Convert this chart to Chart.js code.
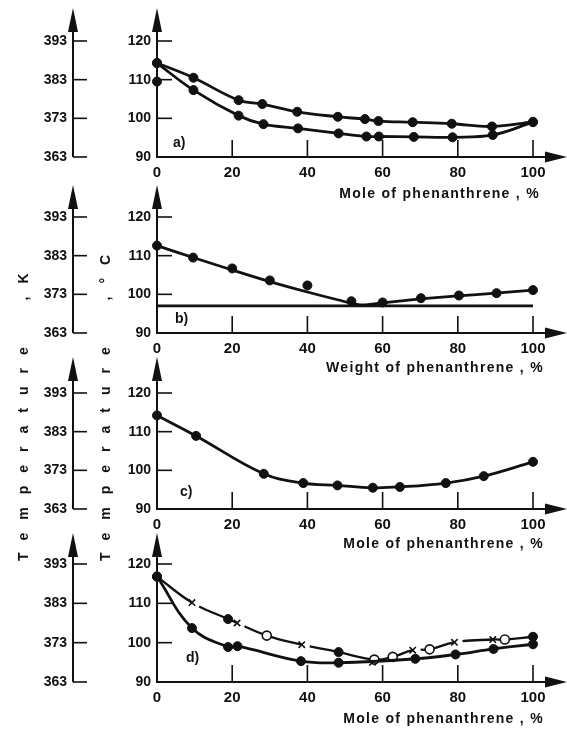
<!DOCTYPE html>
<html><head><meta charset="utf-8">
<script src="https://cdn.jsdelivr.net/npm/chart.js@4.4.1/dist/chart.umd.min.js"></script>
<style>
html,body{margin:0;padding:0;background:#fff;}
body{width:567px;height:729px;overflow:hidden;position:relative;font-family:"Liberation Sans",Arial,sans-serif;color:#111;}
canvas{position:absolute;left:0;}
.t{position:absolute;font-weight:bold;white-space:pre;line-height:16px;}
.xt{font-size:14px;letter-spacing:1.3px;}
.vt{font-size:14px;letter-spacing:13px;transform-origin:0 0;transform:rotate(-90deg);line-height:14px;}
.pl{font-size:14px;}
</style></head><body>
<canvas id="pa"></canvas><canvas id="pb"></canvas><canvas id="pc"></canvas><canvas id="pd"></canvas>

<div class="t vt" style="left:16px;top:561px;">Temperature  ,K</div>
<div class="t vt" style="left:98px;top:561px;">Temperature  ,°C</div>

<div class="t xt" style="right:27px;top:185px;">Mole of phenanthrene , %</div>
<div class="t xt" style="right:23px;top:359px;">Weight of phenanthrene , %</div>
<div class="t xt" style="right:23px;top:535px;">Mole of phenanthrene , %</div>
<div class="t xt" style="right:23px;top:710px;">Mole of phenanthrene , %</div>

<div class="t pl" style="left:173px;top:134px;">a)</div>
<div class="t pl" style="left:175px;top:310px;">b)</div>
<div class="t pl" style="left:180px;top:483px;">c)</div>
<div class="t pl" style="left:186px;top:649px;">d)</div>

<script>
// ---- tick labels ----
const xTicks = [0, 20, 40, 60, 80, 100];
const cTicks = [90, 100, 110, 120];
const kTicks = [363, 373, 383, 393];

// ---- panel a ----
const aUpperX = [0, 9.7, 21.7, 28, 37.3, 48.1, 55.3, 58.9, 68, 78.4, 89.1, 100];
const aUpperT = [114.3, 110.5, 104.7, 103.7, 101.7, 100.4, 99.8, 99.3, 99.0, 98.6, 97.9, 99.1];
const aLowerX = [0, 9.7, 21.7, 28.3, 37.5, 48.3, 55.7, 59, 68.3, 78.6, 89.3, 100];
const aLowerT = [114.3, 107.3, 100.7, 98.5, 97.4, 96.1, 95.3, 95.3, 95.2, 95.1, 95.7, 99.0];
const aExtraX = [0];
const aExtraT = [109.5];

// ---- panel b ----
const bPointX = [0, 9.6, 20, 30, 40, 51.7, 60, 70.2, 80.3, 90.3, 100];
const bPointT = [112.6, 109.5, 106.7, 103.6, 102.3, 98.2, 97.9, 99.0, 99.7, 100.3, 101.1];
const bFitX = [0, 10, 20, 30, 40, 48, 54, 60, 70, 80, 90, 100];
const bFitT = [112.6, 109.4, 106.3, 103.3, 100.6, 98.6, 97.3, 97.8, 98.8, 99.6, 100.3, 101.1];
const bEutX = [0, 100];
const bEutT = [97.0, 97.0];

// ---- panel c ----
const cX = [0, 10.4, 28.4, 38.9, 48, 57.4, 64.6, 76.8, 86.9, 100];
const cT = [114.2, 108.9, 99.1, 96.7, 96.1, 95.5, 95.7, 96.7, 98.5, 102.2];

// ---- panel d ----
const dLowerX = [0, 9.3, 18.9, 21.4, 38.3, 48.3, 68.7, 79.4, 89.5, 100];
const dLowerT = [116.8, 103.7, 98.9, 99.1, 95.3, 94.9, 95.9, 97.0, 98.4, 99.6];
const dUpperX = [0, 9.3, 18.9, 21.3, 29.2, 38.5, 48.3, 57.8, 62.7, 68.0, 72.5, 79.1, 89.3, 92.5, 100];
const dUpperT = [116.8, 110.2, 106.0, 105.0, 101.8, 99.5, 97.6, 95.7, 96.4, 98.1, 98.3, 100.1, 100.8, 100.8, 101.5];
const dUpperMark = ['f','x','f','x','o','x','f','o','o','x','o','x','x','o','f'];
const dCrossX = [57.3];
const dCrossT = [95.0];

// ---------------------------------------------------------
const INK = '#111';
const pts = (xs, ys) => xs.map((x, i) => ({x: x, y: ys[i]}));

function curve(xs, ys, extra) {
  return Object.assign({
    data: pts(xs, ys), showLine: true, borderColor: INK, borderWidth: 2.8,
    tension: 0.4, pointRadius: 4.5, pointBackgroundColor: INK,
    pointBorderColor: INK, pointBorderWidth: 1, clip: false
  }, extra || {});
}
function dots(xs, ys, extra) {
  return Object.assign({
    data: pts(xs, ys), showLine: false, pointRadius: 4.5, pointBackgroundColor: INK,
    pointBorderColor: INK, pointBorderWidth: 1, clip: false
  }, extra || {});
}

function line(ctx, x1, y1, x2, y2) { ctx.beginPath(); ctx.moveTo(x1, y1); ctx.lineTo(x2, y2); ctx.stroke(); }
function arrowUp(ctx, x, tip) {
  ctx.beginPath(); ctx.moveTo(x, tip); ctx.lineTo(x - 5, tip + 24); ctx.lineTo(x + 5, tip + 24); ctx.closePath(); ctx.fill();
}
function arrowRight(ctx, tip, y) {
  ctx.beginPath(); ctx.moveTo(tip, y); ctx.lineTo(tip - 22, y - 5.5); ctx.lineTo(tip - 22, y + 5.5); ctx.closePath(); ctx.fill();
}

const axesPlugin = {
  id: 'axesArt',
  beforeDatasetsDraw(chart) {
    const ctx = chart.ctx, ca = chart.chartArea, s = chart.scales;
    const x0 = ca.left, yb = ca.bottom, kx = s.k.right;
    const tip = ca.top - chart.options.arrowGap;
    ctx.save();
    ctx.strokeStyle = INK; ctx.fillStyle = INK; ctx.lineCap = 'butt';
    ctx.lineWidth = 2;
    line(ctx, x0, yb + 1, x0, tip + 12); arrowUp(ctx, x0, tip);
    line(ctx, kx, yb, kx, tip + 12); arrowUp(ctx, kx, tip);
    line(ctx, x0 - 1, yb, chart.width - 18, yb); arrowRight(ctx, chart.width, yb);
    ctx.lineWidth = 1.6;
    kTicks.forEach(v => { const y = s.k.getPixelForValue(v); line(ctx, kx, y, kx + 14, y); });
    cTicks.forEach(v => { if (v === cTicks[0]) return; const y = s.y.getPixelForValue(v); line(ctx, x0, y, x0 + 15, y); });
    xTicks.forEach(v => { if (v === xTicks[0]) return; const x = s.x.getPixelForValue(v); line(ctx, x, yb, x, yb - 17); });
    ctx.restore();
  }
};

const tickFont = {family: '"Liberation Sans", Arial, sans-serif', size: 14, weight: 'bold'};

function makePanel(id, y120, y90, arrowGap, datasets) {
  const padTop = 42, bottomH = 30;
  const cv = document.getElementById(id);
  const H = padTop + (y90 - y120) + bottomH;
  cv.width = 567; cv.height = H; cv.style.top = (y120 - padTop) + 'px';
  new Chart(cv, {
    type: 'scatter',
    data: {datasets: datasets},
    options: {
      responsive: false, animation: false, events: [], arrowGap: arrowGap,
      layout: {padding: {top: padTop, right: 34, left: 0, bottom: 0}},
      plugins: {legend: {display: false}, tooltip: {enabled: false}},
      scales: {
        x: {
          type: 'linear', min: 0, max: 100,
          grid: {display: false, drawTicks: false}, border: {display: false},
          afterBuildTicks: sc => { sc.ticks = xTicks.map(v => ({value: v})); },
          afterFit: sc => { sc.height = bottomH; },
          ticks: {padding: 7, color: INK, font: Object.assign({}, tickFont, {size: 15}), maxRotation: 0, autoSkip: false}
        },
        y: {
          type: 'linear', position: 'left', min: 90, max: 120, weight: 0,
          grid: {display: false, drawTicks: false}, border: {display: false},
          afterBuildTicks: sc => { sc.ticks = cTicks.map(v => ({value: v})); },
          afterFit: sc => { sc.width = 84; },
          ticks: {padding: 6, color: INK, font: tickFont, autoSkip: false}
        },
        k: {
          type: 'linear', position: 'left', min: 363, max: 393, weight: 1,
          grid: {display: false, drawTicks: false}, border: {display: false},
          afterBuildTicks: sc => { sc.ticks = kTicks.map(v => ({value: v})); },
          afterFit: sc => { sc.width = 73; },
          ticks: {padding: 6, color: INK, font: tickFont, autoSkip: false}
        }
      }
    },
    plugins: [axesPlugin]
  });
}

makePanel('pa', 41, 157, 33, [
  curve(aUpperX, aUpperT),
  curve(aLowerX, aLowerT),
  dots(aExtraX, aExtraT)
]);

makePanel('pb', 217, 333, 32, [
  curve(bEutX, bEutT, {pointRadius: 0, tension: 0}),
  curve(bFitX, bFitT, {pointRadius: 0, tension: 0.3}),
  dots(bPointX, bPointT)
]);

makePanel('pc', 393, 509, 36, [
  curve(cX, cT)
]);

makePanel('pd', 564, 682, 31, [
  curve(dLowerX, dLowerT),
  curve(dUpperX, dUpperT, {
    borderWidth: 2.3,
    pointStyle: dUpperMark.map(m => m === 'x' ? 'crossRot' : 'circle'),
    pointRadius: dUpperMark.map(m => m === 'x' ? 4.5 : 4.5),
    pointBackgroundColor: dUpperMark.map(m => m === 'o' ? '#fff' : INK),
    pointBorderWidth: dUpperMark.map(m => m === 'f' ? 1 : 1.6),
    segment: {borderDash: c => dUpperMark[c.p0DataIndex] === 'x' ? [0, 8, 3000] : undefined}
  }),
  dots(dCrossX, dCrossT, {pointStyle: 'crossRot', pointRadius: 4.5, pointBorderWidth: 1.6})
]);
</script>
</body></html>
